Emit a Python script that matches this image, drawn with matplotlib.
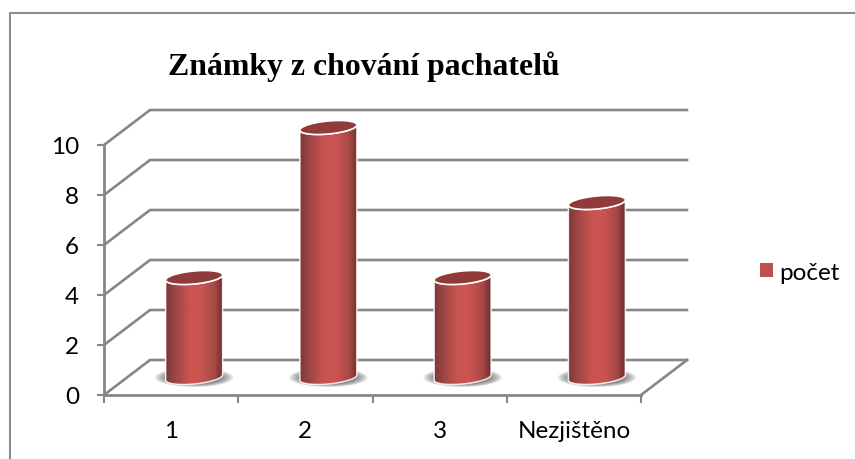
import numpy as np
import matplotlib
matplotlib.use('Agg')
import matplotlib.pyplot as plt
from matplotlib.colors import LinearSegmentedColormap
from matplotlib.lines import Line2D
from matplotlib.patches import PathPatch, Polygon, Rectangle
from matplotlib.path import Path

categories = ['1', '2', '3', 'Nezjištěno']
pocet = [4, 10, 4, 7]
yticks = [0, 2, 4, 6, 8, 10]
title = 'Známky z chování pachatelů'
series_name = 'počet'

W, H = 855, 460
GRID = '#868686'
RED = '#c0504d'

fig = plt.figure(figsize=(W / 100, H / 100), dpi=100)
fig.patch.set_facecolor('white')
# outer frame, only top and left are inside the picture
fig.add_artist(Line2D([9.5 / W, 9.5 / W, 1], [0, 1 - 14 / H, 1 - 14 / H], transform=fig.transFigure,
                      color='#8c8c8c', lw=1.5))

# front plane of the 3d box: x 104-641 px, y 396-146 px
ax = fig.add_axes([104 / W, 1 - 396 / H, 537 / W, 250 / H])
ax.set_xlim(0, 4)
ax.set_ylim(0, 10)
ax.patch.set_alpha(0)
px_x = 4 / 537
px_y = 10 / 250
dx = 46 * px_x
dy = 35 * px_y

# gridlines: side wall + back wall
for v in yticks:
    ax.plot([0, dx, 4 + dx], [v, v + dy, v + dy], color=GRID, lw=1.9, clip_on=False, zorder=1)
ax.plot([4, 4 + dx], [0, dy], color=GRID, lw=1.9, clip_on=False, zorder=1)

for s in ['top', 'right']:
    ax.spines[s].set_visible(False)
for s in ['left', 'bottom']:
    ax.spines[s].set_color(GRID)
    ax.spines[s].set_linewidth(2)
    ax.spines[s].set_zorder(2)

ax.set_yticks(yticks)
ax.set_xticks(range(5))
ax.set_xticklabels([])
ax.set_xticks(np.arange(len(categories)) + 0.5, categories, minor=True)
ax.tick_params(axis='x', which='major', color=GRID, width=1.5, length=6)
ax.tick_params(axis='y', which='major', color=GRID, width=1.5, length=5, labelsize=17.5, pad=13,
               labelfontfamily='Lato')
ax.tick_params(axis='x', which='minor', length=0, pad=18, labelsize=17.5, labelfontfamily='Lato')

cyl = LinearSegmentedColormap.from_list('cyl', [(0, '#7d3836'), (0.18, '#a04745'), (0.42, '#cb5452'),
                                                (0.62, '#cb5452'), (0.85, '#a84a47'), (1, '#6f2e2d')])
grad = np.linspace(0, 1, 128).reshape(1, -1)
a = 28.5 * px_x
b = 6.5 * px_y
k = 2.6 * px_y
t = np.linspace(0, 2 * np.pi, 120)

for i, val in enumerate(pocet):
    cx = i + 0.5 + dx / 2
    base = dy / 2
    top_y = val + dy / 2
    # blurred floor shadow
    for j in range(14):
        f = 1 - j / 18
        ax.fill(cx + 39 * px_x * f * np.cos(t), base + 9.5 * px_y * f * np.sin(t),
                color='#333333', alpha=0.13, lw=0, clip_on=False, zorder=3)
    # body = lower half of base ellipse, then lower half of top ellipse back
    tl = np.linspace(np.pi, 2 * np.pi, 60)
    bx = cx + a * np.cos(tl)
    by = base + b * np.sin(tl) + k * np.cos(tl)
    tx = (cx + a * np.cos(tl))[::-1]
    ty = (top_y + b * np.sin(tl) + k * np.cos(tl))[::-1]
    verts = np.column_stack([np.r_[bx, tx], np.r_[by, ty]])
    im = ax.imshow(grad, extent=[cx - a, cx + a, 0, top_y + 1], cmap=cyl, aspect='auto', zorder=4)
    body = PathPatch(Path(np.vstack([verts, verts[0]])), transform=ax.transData, fc='none', ec='none')
    ax.add_patch(body)
    im.set_clip_path(body)
    im.set_clip_box(fig.bbox)
    ax.add_patch(Polygon(verts, closed=True, fc='none', ec='white', lw=1.1, alpha=0.85, zorder=5, clip_on=False))
    top = np.column_stack([cx + a * np.cos(t), top_y + b * np.sin(t) + k * np.cos(t)])
    ax.add_patch(Polygon(top, closed=True, fc='#8f3b39', ec='white', lw=1.2, zorder=6, clip_on=False))

ax.set_xlim(0, 4)
ax.set_ylim(0, 10)

fig.text(363.5 / W, 1 - 75 / H, title, family='Liberation Serif', weight='bold', fontsize=22.9,
         ha='center', va='baseline', color='black')

handle = Rectangle((0, 0), 1, 1, fc=RED, ec='none')
fig.legend([handle], [series_name], loc='center left', bbox_to_anchor=(738 / W, 1 - 273 / H), frameon=False,
           prop={'family': 'Lato', 'size': 17.5}, handlelength=0.52, handleheight=0.52, handletextpad=0.27)

fig.savefig('out.png', dpi=100)
